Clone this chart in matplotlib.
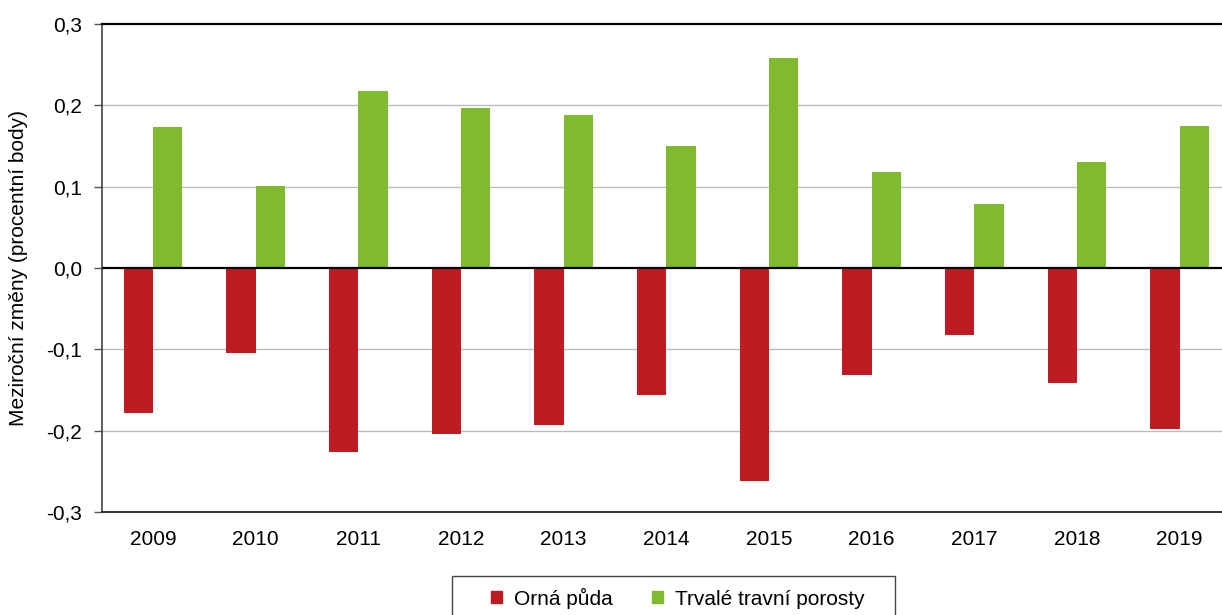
import numpy as np
import matplotlib.pyplot as plt
from matplotlib.patches import Patch, Rectangle

years = ['2009', '2010', '2011', '2012', '2013', '2014', '2015', '2016', '2017', '2018', '2019']
orna = [-0.178, -0.105, -0.226, -0.204, -0.193, -0.156, -0.262, -0.132, -0.082, -0.141, -0.198]
ttp = [0.173, 0.101, 0.218, 0.197, 0.188, 0.150, 0.258, 0.118, 0.079, 0.130, 0.175]

red = '#BE1B22'
green = '#80BA2E'

plt.rcParams['font.family'] = ['Arial', 'Liberation Sans', 'DejaVu Sans']
fs = 15

fig = plt.figure(figsize=(12.22, 6.15), dpi=100)
ax = fig.add_axes([0.0831, 0.1675, 0.9243, 0.7935])

x = np.arange(len(years))
w = 0.285
ax.bar(x - w / 2, orna, w, color=red, zorder=3)
ax.bar(x + w / 2, ttp, w, color=green, zorder=3)

ax.set_xlim(-0.5, len(years) - 0.5)
ax.set_ylim(-0.3, 0.3)
ax.set_yticks([-0.3, -0.2, -0.1, 0.0, 0.1, 0.2, 0.3])
ax.set_yticklabels(['-0,3', '-0,2', '-0,1', '0,0', '0,1', '0,2', '0,3'], fontsize=fs)
ax.set_xticks(x)
ax.set_xticklabels(years, fontsize=fs)
ax.tick_params(axis='x', length=0, pad=13)
ax.tick_params(axis='y', length=6, width=1, color='#555555', pad=8)

for v in [-0.2, -0.1, 0.1, 0.2]:
    ax.axhline(v, color='#BBBBBB', lw=1, zorder=1)
ax.axhline(0, color='black', lw=1.6, zorder=4)

ax.spines['top'].set_color('black')
ax.spines['top'].set_linewidth(1.6)
ax.spines['right'].set_visible(False)
ax.spines['left'].set_color('#444444')
ax.spines['left'].set_linewidth(1.2)
ax.spines['bottom'].set_color('#333333')
ax.spines['bottom'].set_linewidth(1.4)

ax.set_ylabel('Meziroční změny (procentní body)', fontsize=fs)
ax.yaxis.set_label_coords(-0.065, 0.5)

# legend box (cut off at the bottom like in the original)
W, H = 1222, 615
fig.patches.append(Rectangle((452 / W, -0.05), (895 - 452) / W, 0.05 + 1 - 576 / H,
                             transform=fig.transFigure, fill=False,
                             edgecolor='#444444', lw=1.0))
handles = [Patch(color=red), Patch(color=green)]
leg = fig.legend(handles, ['Orná půda', 'Trvalé travní porosty'], loc='center',
                 bbox_to_anchor=(678 / W, 1 - 598 / H), ncol=2, fontsize=fs, frameon=False,
                 handlelength=0.5, handleheight=0.5, columnspacing=1.9,
                 borderpad=0, handletextpad=0.6, borderaxespad=0)

fig.savefig('out.png', dpi=100)
